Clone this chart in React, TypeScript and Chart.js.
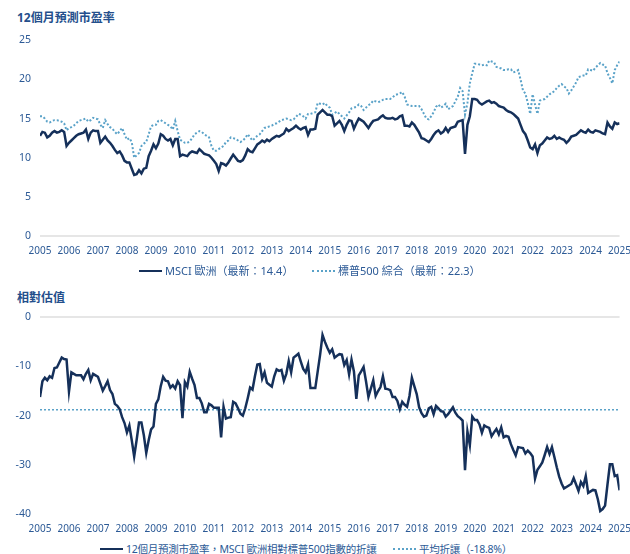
import React, { useEffect, useRef } from "react";
import { Chart, registerables } from "chart.js";

Chart.register(...registerables);

// ---------- DATA (monthly, Jan 2005 .. Jan 2025) ----------
const START_YEAR = 2005;
const END_YEAR = 2025;

const msciEurope = [
  12.8, 13.3, 13.2, 12.6, 12.8, 13.2, 13.4, 13.2, 13.3, 13.5, 13.3, 11.5,
  11.9, 12.2, 12.5, 12.8, 13.0, 13.1, 13.2, 13.6, 12.4, 13.2, 13.5, 13.4,
  13.4, 11.9, 12.3, 12.7, 12.2, 11.9, 11.5, 11.0, 10.6, 10.8, 10.3, 9.6,
  9.4, 9.4, 8.6, 7.8, 7.9, 8.4, 8.0, 8.6, 8.7, 10.2, 10.9, 11.7,
  11.2, 11.8, 13.0, 12.8, 12.4, 12.2, 12.4, 11.6, 12.4, 12.4, 10.2, 10.4,
  10.3, 10.2, 10.6, 10.8, 10.7, 10.6, 11.1, 10.8, 10.5, 10.4, 10.3, 10.0,
  9.6, 9.2, 8.3, 9.3, 9.2, 9.0, 9.4, 9.9, 10.4, 10.0, 9.6, 9.5,
  9.7, 10.3, 11.1, 10.8, 10.7, 11.2, 11.7, 11.9, 12.2, 12.0, 12.3, 12.1,
  12.4, 12.6, 12.8, 12.7, 12.9, 13.1, 13.7, 13.4, 13.6, 13.8, 14.1, 13.8,
  13.6, 13.8, 13.9, 12.9, 13.6, 13.6, 13.7, 15.5, 15.8, 16.1, 15.8, 15.5,
  15.5, 15.3, 14.1, 14.4, 14.7, 14.2, 13.4, 14.2, 14.8, 14.7, 13.7, 14.4,
  15.0, 14.8, 14.6, 14.2, 13.8, 14.3, 14.7, 14.8, 14.9, 15.2, 15.4, 15.1,
  15.0, 15.0, 15.1, 14.9, 15.0, 15.3, 15.4, 14.1, 14.1, 14.0, 14.5, 14.2,
  13.7, 13.2, 12.5, 12.4, 12.2, 12.0, 12.4, 12.9, 13.3, 13.5, 13.1, 13.3,
  13.8, 13.3, 13.8, 13.9, 14.0, 14.6, 14.7, 14.8, 10.5, 14.2, 15.3, 17.5,
  17.5, 17.4, 17.0, 16.8, 17.0, 17.2, 17.3, 17.0, 17.1, 16.9, 16.6, 16.5,
  16.4, 16.1, 15.9, 15.8, 15.6, 15.3, 15.0, 14.2, 13.4, 13.0, 12.2, 11.3,
  11.1, 11.7, 10.6, 11.6, 11.8, 12.2, 12.6, 12.4, 12.5, 12.8, 12.4, 12.6,
  12.4, 12.3, 11.9, 12.2, 12.7, 12.8, 12.9, 13.2, 13.5, 13.3, 13.2, 13.6,
  13.3, 13.2, 13.5, 13.4, 13.3, 13.1, 13.0, 14.5, 14.0, 13.7, 14.5, 14.3,
  14.4,
];

const sp500 = [
  15.3, 15.3, 15.0, 14.6, 14.5, 14.7, 14.8, 14.8, 14.7, 14.6, 14.4, 13.5,
  13.8, 13.9, 14.1, 14.4, 14.7, 14.8, 14.9, 15.0, 14.6, 14.8, 15.1, 15.0,
  14.9, 14.2, 13.8, 14.8, 14.3, 13.9, 13.7, 13.3, 13.0, 13.4, 13.8, 13.0,
  12.3, 12.5, 12.0, 10.0, 10.3, 10.6, 11.5, 11.8, 12.0, 13.0, 14.0, 14.2,
  14.2, 14.7, 14.8, 14.6, 14.4, 14.2, 14.0, 13.6, 14.7, 13.4, 12.3, 12.1,
  11.9, 11.9, 12.1, 12.5, 13.0, 13.2, 13.4, 13.3, 13.0, 12.8, 12.6, 11.5,
  10.9, 10.9, 11.1, 11.3, 11.5, 12.0, 12.2, 12.6, 12.5, 12.4, 12.2, 12.0,
  12.2, 12.5, 13.0, 12.6, 12.2, 12.5, 12.8, 13.0, 13.4, 13.8, 13.9, 14.0,
  14.1, 14.3, 14.4, 14.6, 14.8, 14.9, 15.0, 14.9, 14.8, 14.9, 15.2, 15.6,
  15.5, 15.3, 15.0, 15.6, 15.6, 15.7, 15.8, 17.0, 16.9, 16.8, 17.0, 16.6,
  16.4, 15.5, 15.7, 15.9, 15.6, 15.3, 15.0, 15.4, 15.8, 16.3, 16.4, 16.5,
  16.8, 16.6, 16.1, 16.4, 16.7, 16.9, 17.3, 17.2, 17.1, 17.2, 17.4, 17.5,
  17.5, 17.5, 17.7, 18.0, 18.1, 18.2, 18.4, 17.8, 16.8, 16.7, 16.6, 16.6,
  16.6, 16.6, 16.2, 15.6, 15.0, 14.9, 15.3, 15.8, 16.5, 16.8, 16.4, 16.6,
  16.9, 16.2, 16.4, 16.6, 17.2, 17.8, 18.9, 18.5, 15.5, 17.0, 19.5, 20.8,
  22.0, 22.0, 21.9, 21.8, 21.9, 21.8, 22.4, 22.3, 22.2, 21.6, 21.5, 21.4,
  21.2, 21.2, 21.3, 21.3, 20.9, 21.0, 21.2, 20.0, 18.6, 18.2, 17.0, 15.6,
  18.1, 16.8, 15.6, 17.3, 17.4, 17.5, 17.8, 18.1, 18.3, 18.5, 18.9, 19.2,
  19.4, 19.1, 18.9, 18.2, 18.6, 19.1, 19.6, 20.3, 20.4, 20.5, 20.5, 21.3,
  21.2, 21.1, 21.5, 21.8, 22.1, 21.9, 21.8, 20.8, 20.2, 19.5, 21.2, 21.8,
  22.3,
];

const relativeDiscount = [
  -16.2, -13.0, -12.3, -12.8, -12.0, -12.3, -10.3, -10.2, -9.2, -8.2, -8.5, -8.6,
  -15.1, -11.2, -11.5, -11.8, -11.8, -11.8, -12.6, -11.5, -10.7, -12.8, -11.5, -11.8,
  -12.1, -13.5, -14.9, -14.0, -13.0, -14.8, -15.6, -17.6, -18.0, -18.7, -20.3, -21.5,
  -23.4, -22.0, -25.0, -28.3, -25.0, -21.4, -21.4, -24.0, -27.6, -25.0, -22.8, -22.2,
  -17.6, -16.7, -14.0, -12.1, -12.9, -13.0, -14.3, -13.8, -14.5, -13.0, -13.8, -20.5,
  -13.2, -14.1, -11.1, -12.5, -13.8, -16.4, -16.4, -17.5, -19.3, -19.3, -17.6, -17.9,
  -18.4, -18.4, -18.4, -24.4, -18.2, -20.6, -20.4, -20.3, -17.2, -17.5, -18.5, -19.6,
  -20.0, -18.5, -16.5, -14.3, -14.7, -12.0, -9.6, -9.5, -12.5, -11.2, -13.3, -13.7,
  -14.1, -12.0, -10.6, -10.9, -10.7, -12.9, -11.5, -8.9, -11.2, -8.2, -7.8, -7.4,
  -9.0, -10.5, -11.2, -9.6, -14.4, -14.4, -14.4, -11.0, -7.6, -3.6, -5.0, -6.2,
  -7.2, -6.5, -8.2, -7.8, -7.5, -7.6, -9.7, -8.7, -11.6, -8.6, -11.0, -16.6,
  -11.8, -11.0, -10.1, -13.0, -16.2, -14.5, -12.8, -16.0, -15.0, -14.2, -12.0, -14.5,
  -14.6, -14.8, -16.2, -16.2, -17.0, -18.7, -17.2, -17.8, -18.2, -16.0, -12.3, -14.0,
  -15.6, -18.3, -19.5, -20.2, -20.0, -18.5, -18.2, -19.7, -18.0, -18.5, -19.1, -19.2,
  -20.2, -19.7, -19.0, -18.3, -19.4, -20.1, -20.5, -21.0, -31.1, -23.2, -26.0, -20.2,
  -20.9, -20.9, -21.8, -23.5, -22.0, -22.3, -22.5, -24.2, -23.4, -22.7, -23.8, -22.4,
  -24.4, -24.1, -24.3, -25.8, -27.0, -28.1, -26.4, -26.5, -26.6, -27.7, -27.1, -27.6,
  -28.3, -32.8, -31.0, -30.3, -29.5, -28.0, -26.4, -27.8, -26.4, -28.4, -30.5, -32.4,
  -33.8, -34.8, -34.5, -34.2, -33.9, -32.7, -34.0, -35.3, -33.5, -34.3, -32.3, -35.7,
  -35.4, -35.1, -35.2, -37.0, -39.4, -39.0, -38.3, -34.0, -29.9, -29.9, -32.3, -32.1,
  -35.2,
];

const AVERAGE_DISCOUNT = -18.8;

const TOP_TITLE = "12個月預測市盈率";
const BOTTOM_TITLE = "相對估值";
const TOP_LEGEND = ["MSCI 歐洲（最新：14.4）", "標普500 綜合（最新：22.3）"];
const BOTTOM_LEGEND = ["12個月預測市盈率，MSCI 歐洲相對標普500指數的折讓", "平均折讓（-18.8%）"];
const TOP_Y = { min: 0, max: 25, step: 5 };
const BOTTOM_Y = { min: -40, max: 0, step: 10 };

// ---------- STYLE ----------
const NAVY = "#15305a";
const LIGHT_BLUE = "#5aa2c8";
const TEXT_BLUE = "#2c5a96";
const TITLE_BLUE = "#244f8c";
const FONT = "'Noto Sans', 'Noto Sans CJK TC', sans-serif";
const CANVAS_W = 640;

const toPoints = (arr: number[]) =>
  arr.map((v, i) => ({ x: START_YEAR + i / 12, y: v }));

function baseOptions(
  yr: { min: number; max: number; step: number },
  xHeight: number,
  xPad: number
) {
  return {
    responsive: false,
    animation: false as const,
    maintainAspectRatio: false,
    layout: { padding: { top: 0, left: 0, right: 0, bottom: 0 } },
    plugins: { legend: { display: false }, tooltip: { enabled: false } },
    elements: { point: { radius: 0 }, line: { tension: 0 } },
    scales: {
      x: {
        type: "linear" as const,
        min: START_YEAR,
        max: END_YEAR,
        grid: { display: false, drawTicks: false },
        border: { display: false },
        ticks: {
          stepSize: 1,
          autoSkip: false,
          maxRotation: 0,
          padding: xPad,
          color: TEXT_BLUE,
          font: { family: FONT, size: 10 },
          callback: (v: any) => String(v),
        },
        afterFit: (s: any) => {
          s.height = xHeight;
        },
      },
      y: {
        min: yr.min,
        max: yr.max,
        grid: {
          drawTicks: false,
          color: (ctx: any) => (ctx.tick && ctx.tick.value === 0 ? "#e6e6e6" : "rgba(0,0,0,0)"),
          lineWidth: 2,
        },
        border: { display: false },
        ticks: {
          stepSize: yr.step,
          padding: 9,
          color: TEXT_BLUE,
          font: { family: FONT, size: 10.5 },
        },
        afterFit: (s: any) => {
          s.width = 40;
        },
      },
    },
  };
}

function TopChart() {
  const ref = useRef<HTMLCanvasElement | null>(null);
  useEffect(() => {
    if (!ref.current) return;
    const chart = new Chart(ref.current, {
      type: "line",
      data: {
        datasets: [
          {
            label: TOP_LEGEND[0],
            data: toPoints(msciEurope),
            borderColor: NAVY,
            borderWidth: 2.5,
          },
          {
            label: TOP_LEGEND[1],
            data: toPoints(sp500),
            borderColor: LIGHT_BLUE,
            borderWidth: 2,
            borderDash: [2, 2],
          },
        ],
      },
      options: baseOptions(TOP_Y, 28, 9) as any,
    });
    return () => chart.destroy();
  }, []);
  return (
    <canvas
      ref={ref}
      width={CANVAS_W}
      height={239}
      style={{ position: "absolute", left: 0, top: 25, width: CANVAS_W, height: 239 }}
    />
  );
}

function BottomChart() {
  const ref = useRef<HTMLCanvasElement | null>(null);
  useEffect(() => {
    if (!ref.current) return;
    const chart = new Chart(ref.current, {
      type: "line",
      data: {
        datasets: [
          {
            label: BOTTOM_LEGEND[0],
            data: toPoints(relativeDiscount),
            borderColor: NAVY,
            borderWidth: 2.5,
          },
          {
            label: BOTTOM_LEGEND[1],
            data: [
              { x: START_YEAR, y: AVERAGE_DISCOUNT },
              { x: END_YEAR, y: AVERAGE_DISCOUNT },
            ],
            borderColor: LIGHT_BLUE,
            borderWidth: 1.5,
            borderDash: [2, 2],
          },
        ],
      },
      options: baseOptions(BOTTOM_Y, 24, 9) as any,
    });
    return () => chart.destroy();
  }, []);
  return (
    <canvas
      ref={ref}
      width={CANVAS_W}
      height={236}
      style={{ position: "absolute", left: 0, top: 302, width: CANVAS_W, height: 236 }}
    />
  );
}

function LegendItem(props: {
  left: number;
  top: number;
  text: string;
  dotted?: boolean;
  size?: number;
  spacing?: number;
}) {
  const { left, top, text, dotted, size = 11, spacing = 0 } = props;
  return (
    <div
      style={{
        position: "absolute",
        left,
        top,
        display: "flex",
        alignItems: "center",
        whiteSpace: "nowrap",
        fontFamily: FONT,
        fontSize: size,
        letterSpacing: spacing,
        color: TEXT_BLUE,
        lineHeight: "14px",
      }}
    >
      <div
        style={{
          width: 23,
          height: 0,
          borderTop: dotted ? `2px dotted ${LIGHT_BLUE}` : `2.5px solid ${NAVY}`,
          marginRight: 3,
        }}
      />
      <span>{text}</span>
    </div>
  );
}

export default function App() {
  return (
    <div
      style={{
        position: "absolute",
        left: 0,
        top: 0,
        width: 630,
        height: 554,
        background: "#ffffff",
        overflow: "hidden",
      }}
    >
      <div
        style={{
          position: "absolute",
          left: 17,
          top: 8,
          fontFamily: FONT,
          fontWeight: 700,
          fontSize: 12,
          color: TITLE_BLUE,
          whiteSpace: "nowrap",
        }}
      >
        {TOP_TITLE}
      </div>
      <TopChart />
      <LegendItem left={139} top={264} text={TOP_LEGEND[0]} />
      <LegendItem left={312} top={264} text={TOP_LEGEND[1]} dotted />

      <div
        style={{
          position: "absolute",
          left: 17,
          top: 288,
          fontFamily: FONT,
          fontWeight: 600,
          fontSize: 12,
          color: TITLE_BLUE,
          whiteSpace: "nowrap",
        }}
      >
        {BOTTOM_TITLE}
      </div>
      <BottomChart />
      <LegendItem left={100} top={542} text={BOTTOM_LEGEND[0]} size={10.5} spacing={-0.25} />
      <LegendItem left={393} top={542} text={BOTTOM_LEGEND[1]} dotted size={10.5} spacing={-0.25} />
    </div>
  );
}
